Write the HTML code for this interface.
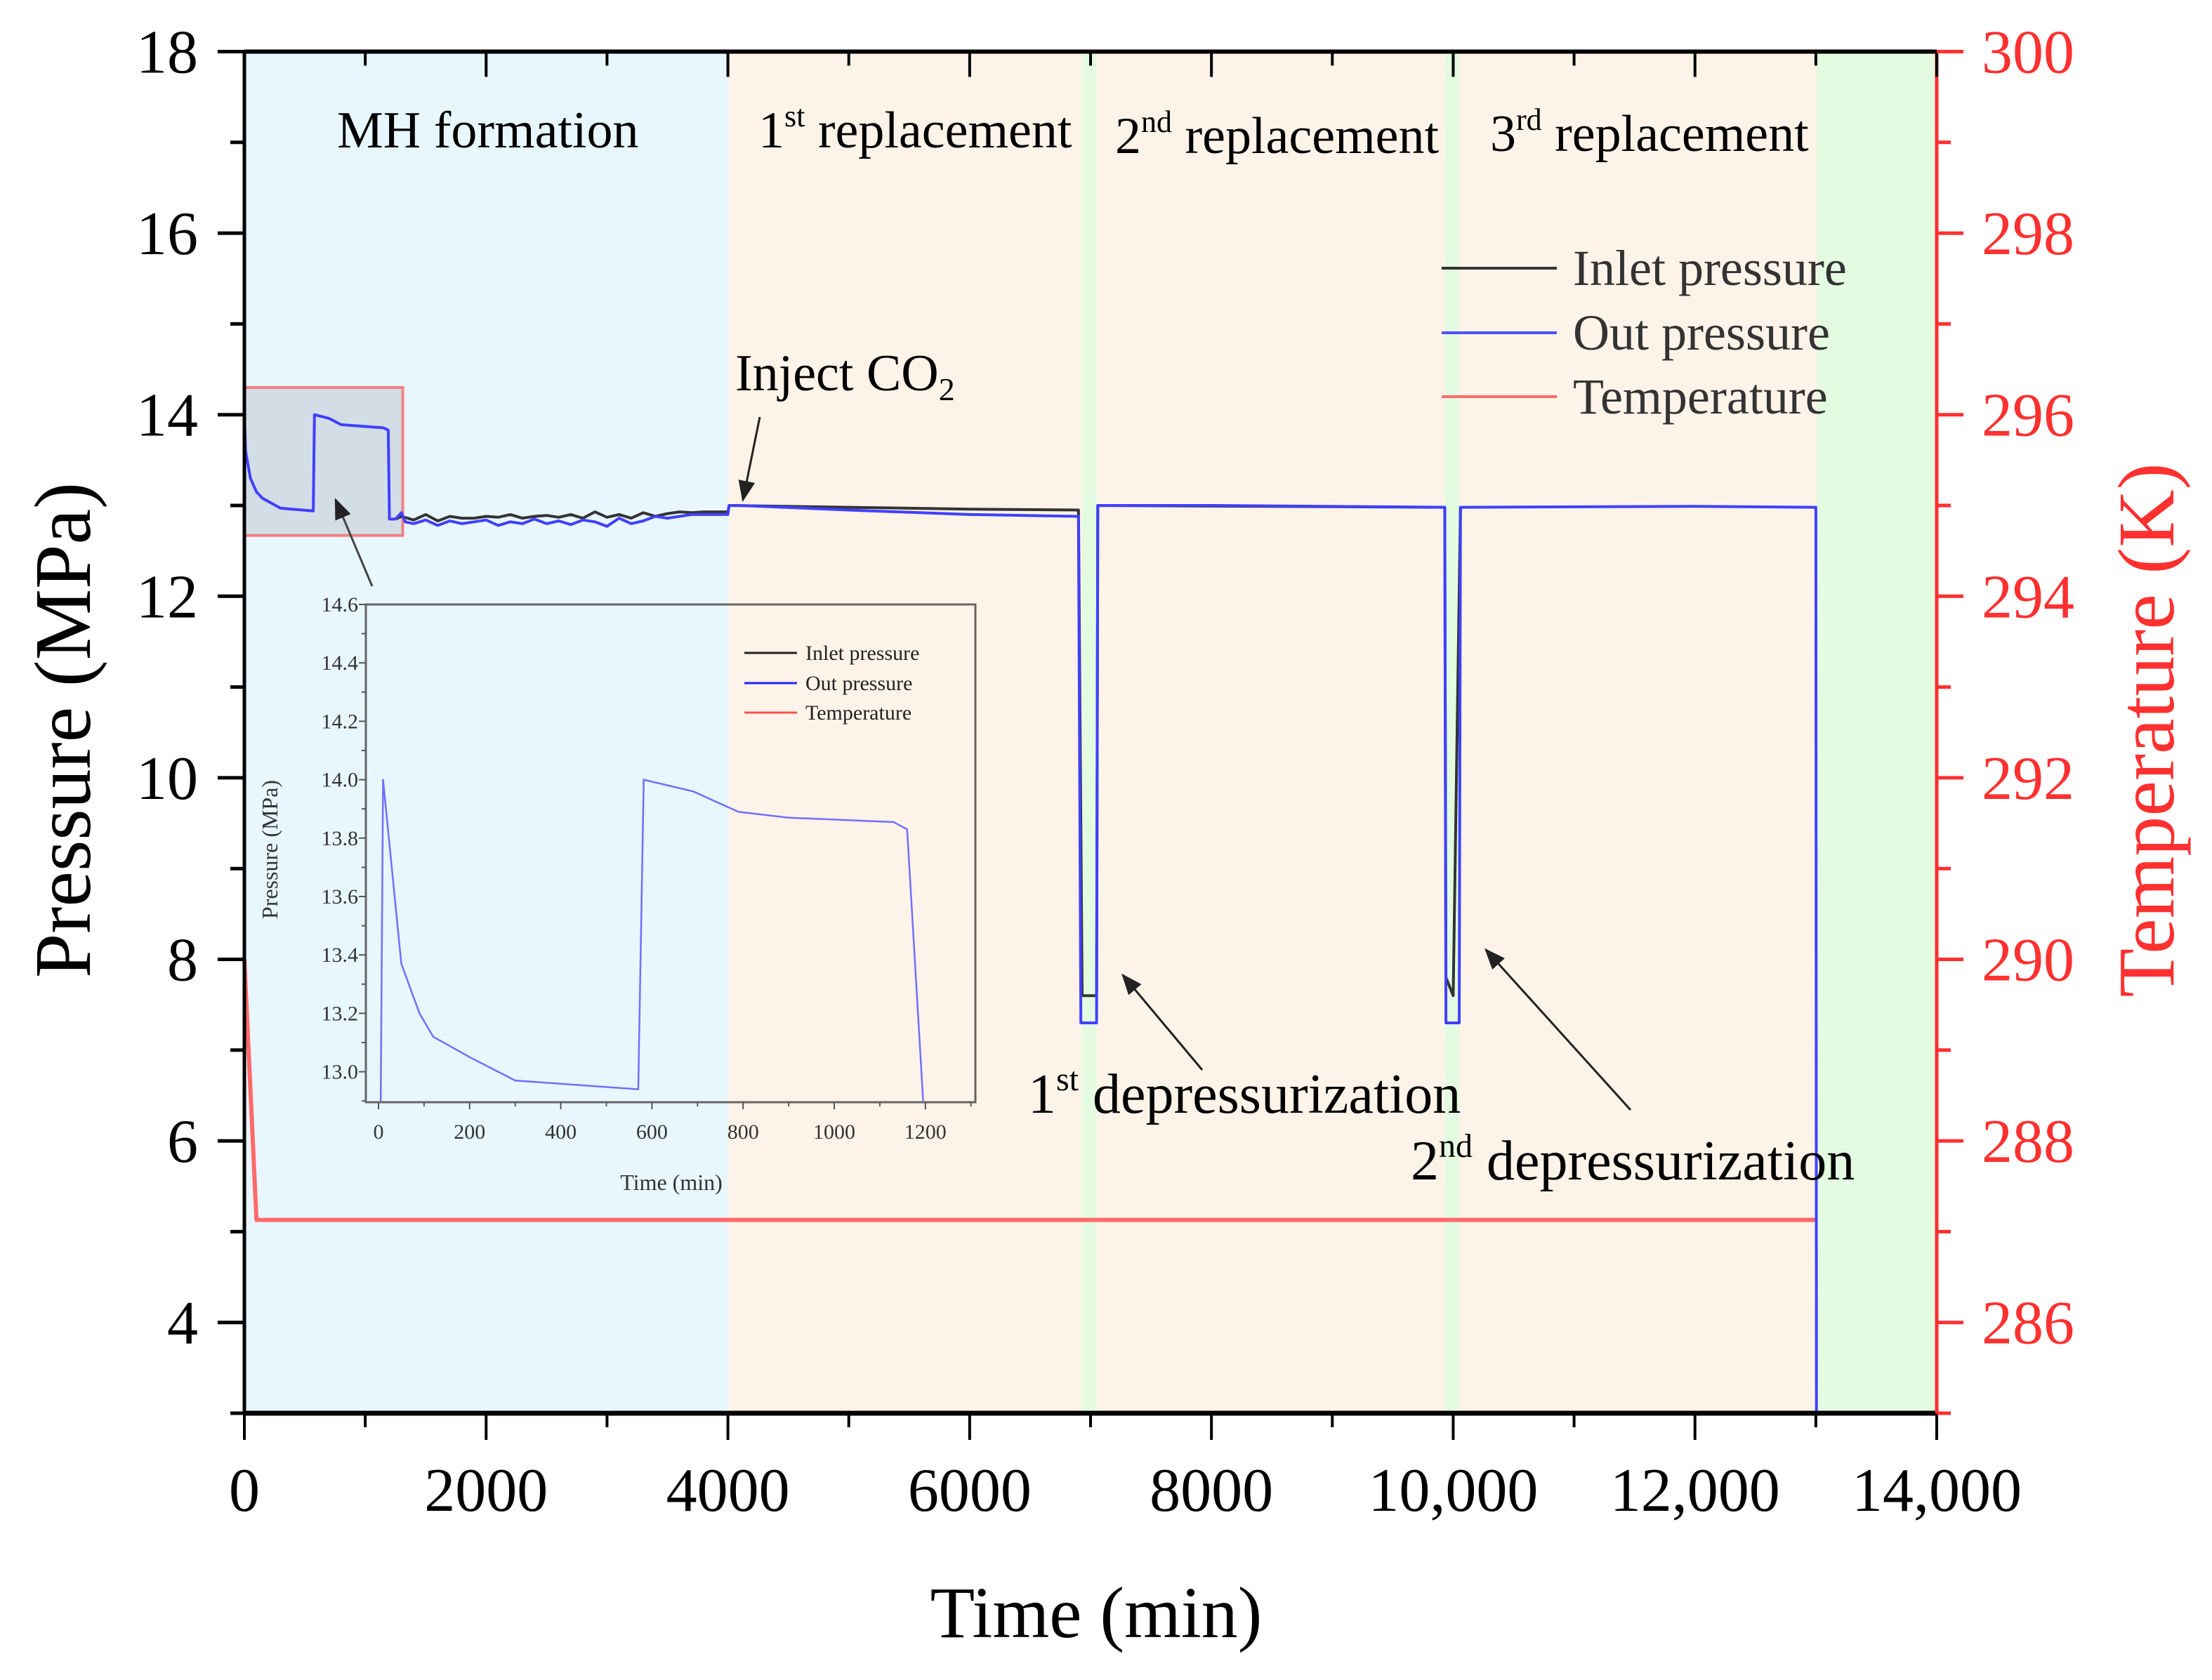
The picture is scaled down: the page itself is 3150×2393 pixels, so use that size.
<!DOCTYPE html>
<html><head><meta charset="utf-8"><style>
html,body{margin:0;padding:0;background:#fff}
svg{display:block;font-family:"Liberation Serif",serif}
</style></head><body>
<svg id="chart" width="3150" height="2393" viewBox="0 0 3150 2393" xmlns="http://www.w3.org/2000/svg">
<g id="bg"></g>
<g id="marks"></g>
<g id="axes"></g>
<g id="inset"></g>
<g id="labels"></g>
</svg>
<script>
// ---- data ----
const phaseStarts=[0,4000,6930,7050,9930,10050,13010];
const phaseEnds=[4000,6930,7050,9930,10050,13010,14000];
const phaseColors=['#e8f6fd','#fdf3e8','#e3fbe0','#fdf3e8','#e3fbe0','#fdf3e8','#e3fbe0'];
const outT=[0,10,50,100,150,300,570,580,700,800,1150,1190,1200,1250,1300,1330,1400,1500,1600,1700,1800,1900,2000,2100,2200,2300,2400,2500,2600,2700,2800,2900,3000,3100,3200,3300,3400,3500,3600,3700,3800,3900,4000,4010,4100,5000,6000,6900,6920,7050,7060,8000,9930,9940,10050,10060,12000,13000,13005];
const outP=[14.0,13.6,13.3,13.15,13.08,12.97,12.94,14.0,13.96,13.89,13.855,13.83,12.85,12.85,12.92,12.82,12.8,12.84,12.78,12.83,12.8,12.82,12.84,12.78,12.82,12.8,12.85,12.8,12.83,12.79,12.84,12.82,12.77,12.86,12.8,12.83,12.88,12.86,12.88,12.9,12.9,12.9,12.9,13.0,13.0,12.95,12.9,12.88,7.3,7.3,13.0,13.0,12.98,7.3,7.3,12.98,12.99,12.98,3.0];
const inT=[1250,1300,1400,1500,1600,1700,1800,1900,2000,2100,2200,2300,2400,2500,2600,2700,2800,2900,3000,3100,3200,3300,3400,3500,3600,3700,3800,3900,4000,4010,5000,6000,6900,6930,7050,7060,9930,9940,10000,10060];
const inP=[12.85,12.88,12.84,12.9,12.83,12.88,12.86,12.86,12.88,12.87,12.9,12.86,12.88,12.89,12.87,12.9,12.86,12.93,12.87,12.9,12.86,12.92,12.88,12.91,12.93,12.92,12.93,12.93,12.93,13.0,12.98,12.96,12.95,7.6,7.6,13.0,12.98,7.8,7.6,12.98];
const tempT=[0,100,13000];
const tempV=[290.0,287.13,287.13];
const insetT=[5,10,50,90,120,200,300,570,582,690,790,900,1130,1160,1195];
const insetP=[12.9,14.0,13.37,13.2,13.12,13.05,12.97,12.94,14.0,13.96,13.89,13.87,13.855,13.83,12.9];
const xTicks=[0,2000,4000,6000,8000,10000,12000,14000];
const xTickLabels=['0','2000','4000','6000','8000','10,000','12,000','14,000'];
const yTicks=[4,6,8,10,12,14,16,18];
const tTicks=[286,288,290,292,294,296,298,300];
const insetYTicks=[13.0,13.2,13.4,13.6,13.8,14.0,14.2,14.4,14.6];
const insetXTicks=[0,200,400,600,800,1000,1200];

// ---- scales ----
const X0=348,X1=2758,Y0=73.5,Y1=2013;
const x=t=>X0+t*(X1-X0)/14000;
const y=p=>Y0+(18-p)*(Y1-Y0)/15;
const yT=T=>Y0+(300-T)*(Y1-Y0)/15;
const ix=t=>539+t*0.649;
const iy=p=>861+(14.6-p)*416;
const NS='http://www.w3.org/2000/svg';
function mk(tag,attrs,parent,text){const e=document.createElementNS(NS,tag);for(const k in attrs)e.setAttribute(k,attrs[k]);if(text!==undefined)e.textContent=text;parent.appendChild(e);return e;}
const bg=document.getElementById('bg'),marks=document.getElementById('marks'),axes=document.getElementById('axes'),inset=document.getElementById('inset'),labels=document.getElementById('labels');

phaseStarts.forEach((s,i)=>{const r=mk('rect',{x:x(s),y:Y0,width:x(phaseEnds[i])-x(s),height:Y1-Y0,fill:phaseColors[i]},bg);

});

const zb=mk('rect',{x:x(0),y:y(14.3),width:x(1310)-x(0),height:y(12.67)-y(14.3),fill:'#d3dde6',stroke:'#f08080','stroke-width':4},marks);



function poly(ts,vs,fx,fy,color,w,parent,name){const pts=ts.map((t,i)=>fx(t).toFixed(1)+','+fy(vs[i]).toFixed(1)).join(' ');
const p=mk('polyline',{points:pts,fill:'none',stroke:color,'stroke-width':w,'stroke-linejoin':'round'},parent);

return p;}
poly(tempT,tempV,x,yT,'#ff6a6a',6,marks,'temperature-line');
poly(inT,inP,x,y,'#333333',4,marks,'inlet-pressure-line');
poly(outT,outP,x,y,'#4040ff',4,marks,'out-pressure-line');

mk('line',{x1:X0,y1:Y0,x2:X1,y2:Y0,stroke:'#000','stroke-width':6},axes);
mk('line',{x1:X0,y1:Y1,x2:X1,y2:Y1,stroke:'#000','stroke-width':7},axes);
mk('line',{x1:X0,y1:Y0,x2:X0,y2:Y1,stroke:'#000','stroke-width':5},axes);
mk('line',{x1:X1,y1:Y0,x2:X1,y2:Y1,stroke:'#ff3030','stroke-width':5},axes);
for(let t=0;t<=14000;t+=1000){const maj=t%2000===0;
mk('line',{x1:x(t),y1:Y1,x2:x(t),y2:Y1+(maj?38:20),stroke:'#000','stroke-width':4},axes);
mk('line',{x1:x(t),y1:Y0,x2:x(t),y2:Y0+(maj?36:20),stroke:'#000','stroke-width':4},axes);}
xTicks.forEach((t,i)=>{const e=mk('text',{x:x(t),y:2152,'font-size':88,'text-anchor':'middle'},axes,xTickLabels[i]);

});
for(let p=3;p<=18;p++){const maj=p%2===0;
mk('line',{x1:X0,y1:y(p),x2:X0-(maj?38:20),y2:y(p),stroke:'#000','stroke-width':5},axes);
mk('line',{x1:X1,y1:y(p),x2:X1+(maj?38:20),y2:y(p),stroke:'#ff3030','stroke-width':5},axes);}
yTicks.forEach(p=>{const e=mk('text',{x:282,y:y(p)+30,'font-size':88,'text-anchor':'end'},axes,String(p));

});
tTicks.forEach(T=>{const e=mk('text',{x:2822,y:yT(T)+30,'font-size':88,fill:'#ff3030'},axes,String(T));

});
let e;
e=mk('text',{x:1561,y:2332,'font-size':104,'text-anchor':'middle'},axes,'Time (min)');

e=mk('text',{x:0,y:0,'font-size':114,'text-anchor':'middle',transform:'translate(128,1040) rotate(-90)'},axes,'Pressure (MPa)');

e=mk('text',{x:0,y:0,'font-size':114,'text-anchor':'middle',fill:'#ff3030',transform:'translate(3095,1040) rotate(-90)'},axes,'Temperature (K)');


const legNames=['Inlet pressure','Out pressure','Temperature'];
const legColors=['#333333','#5050ff','#ff6a6a'];
const legY=[382,474,565];
legNames.forEach((n,i)=>{mk('line',{x1:2053,y1:legY[i],x2:2217,y2:legY[i],stroke:legColors[i],'stroke-width':4},labels);
const t=mk('text',{x:2240,y:legY[i]+24,'font-size':72,fill:'#333'},labels,n);

});

const ic=mk('g',{},inset);
poly(insetT,insetP,ix,iy,'#7070ff',2.5,ic,'inset-out-pressure-line');
mk('rect',{x:521,y:861,width:868,height:709,fill:'none',stroke:'#666','stroke-width':3},inset);
for(let v=12.9;v<=14.61;v+=0.1){const maj=Math.round(v*10)%2===0;
mk('line',{x1:521,y1:iy(v),x2:521-(maj?10:6),y2:iy(v),stroke:'#555','stroke-width':2},inset);}
for(let t=0;t<=1300;t+=100){mk('line',{x1:ix(t),y1:1570,x2:ix(t),y2:1570+(t%200===0?10:6),stroke:'#555','stroke-width':2},inset);}
insetYTicks.forEach(v=>{const t=mk('text',{x:510,y:iy(v)+10,'font-size':30,'text-anchor':'end',fill:'#333'},inset,v.toFixed(1));

});
insetXTicks.forEach(v=>{const t=mk('text',{x:ix(v),y:1622,'font-size':30,'text-anchor':'middle',fill:'#333'},inset,String(v));

});
e=mk('text',{x:956,y:1695,'font-size':32,'text-anchor':'middle',fill:'#333'},inset,'Time (min)');

e=mk('text',{x:0,y:0,'font-size':32,'text-anchor':'middle',fill:'#333',transform:'translate(395,1210) rotate(-90)'},inset,'Pressure (MPa)');

const iln=['Inlet pressure','Out pressure','Temperature'],ilc=['#222','#2020ff','#ff5050'],ily=[930,973,1015];
iln.forEach((n,i)=>{mk('line',{x1:1060,y1:ily[i],x2:1135,y2:ily[i],stroke:ilc[i],'stroke-width':3},inset);
const t=mk('text',{x:1147,y:ily[i]+10,'font-size':30,fill:'#222'},inset,n);

});
</script>
<svg style="position:absolute;left:0;top:0" width="3150" height="2393" viewBox="0 0 3150 2393" font-family="Liberation Serif, serif">
<defs><marker id="ah" markerWidth="10" markerHeight="10" refX="9" refY="5" orient="auto" markerUnits="strokeWidth"><path d="M0,1 L10,5 L0,9 z" fill="#222"/></marker></defs>
<text x="480" y="210" font-size="74">MH formation</text>
<text x="1080" y="210" font-size="74">1<tspan font-size="44" dy="-30">st</tspan><tspan dy="30"> replacement</tspan></text>
<text x="1588" y="218" font-size="74">2<tspan font-size="44" dy="-30">nd</tspan><tspan dy="30"> replacement</tspan></text>
<text x="2122" y="215" font-size="74">3<tspan font-size="44" dy="-30">rd</tspan><tspan dy="30"> replacement</tspan></text>
<text x="1047" y="556" font-size="74">Inject CO<tspan font-size="46" dy="14">2</tspan></text>
<line x1="1082" y1="594" x2="1058" y2="712" stroke="#222" stroke-width="3" marker-end="url(#ah)"/>
<line x1="530" y1="835" x2="478" y2="712" stroke="#444" stroke-width="3" marker-end="url(#ah)"/>
<text x="1464" y="1585" font-size="80">1<tspan font-size="48" dy="-32">st</tspan><tspan dy="32"> depressurization</tspan></text>
<line x1="1712" y1="1524" x2="1599" y2="1389" stroke="#222" stroke-width="3" marker-end="url(#ah)"/>
<text x="2009" y="1680" font-size="80">2<tspan font-size="48" dy="-32">nd</tspan><tspan dy="32"> depressurization</tspan></text>
<line x1="2322" y1="1581" x2="2116" y2="1353" stroke="#222" stroke-width="3" marker-end="url(#ah)"/>
</svg>
</body></html>
